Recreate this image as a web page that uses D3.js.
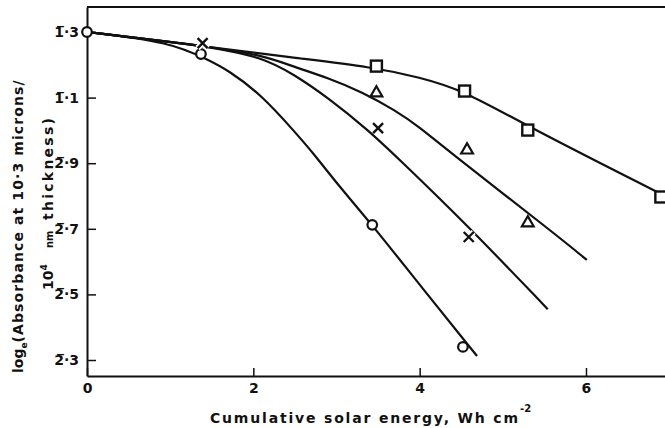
<!DOCTYPE html>
<html><head><meta charset="utf-8">
<script src="https://cdn.jsdelivr.net/npm/d3@7"></script>
<style>
html,body{margin:0;padding:0;background:#fff;}
svg{display:block;}
text{font-family:"DejaVu Sans",sans-serif;font-weight:bold;fill:#111;}
</style></head>
<body>
<script>
// ---- data ----
const xTicks = [0, 2, 4, 6];
const yTicks = [-0.7, -0.9, -1.1, -1.3, -1.5, -1.7];
const yTickLabels = ["1\u0305·3", "1\u0305·1", "2\u0305·9", "2\u0305·7", "2\u0305·5", "2\u0305·3"];

// measured points
const circleX = [0, 1.37, 3.43, 4.52];
const circleY = [-0.700, -0.767, -1.288, -1.660];
const crossX = [1.39, 3.50, 4.59];
const crossY = [-0.734, -0.993, -1.325];
const triangleX = [3.48, 4.57, 5.30];
const triangleY = [-0.883, -1.057, -1.279];
const squareX = [3.48, 4.54, 5.30, 6.90];
const squareY = [-0.804, -0.880, -0.999, -1.203];

// fitted curves
const circleCurveX = [0, 1.00, 1.455, 1.695, 2.10, 2.50, 2.72, 3.04, 3.43, 4.06, 4.69];
const circleCurveY = [-0.700, -0.730, -0.785, -0.816, -0.892, -1.005, -1.069, -1.173, -1.288, -1.490, -1.688];
const crossCurveX = [0, 1.00, 1.48, 2.10, 2.50, 2.90, 3.38, 3.70, 4.57, 5.54];
const crossCurveY = [-0.700, -0.730, -0.746, -0.776, -0.831, -0.901, -0.999, -1.075, -1.288, -1.545];
const triangleCurveX = [0, 1.00, 1.48, 2.10, 2.50, 2.90, 3.31, 3.70, 4.00, 4.33, 5.69, 6.01];
const triangleCurveY = [-0.700, -0.730, -0.746, -0.770, -0.807, -0.840, -0.883, -0.938, -0.990, -1.060, -1.328, -1.395];
const squareCurveX = [0, 1.00, 1.48, 2.50, 3.43, 4.00, 4.53, 5.29, 6.95];
const squareCurveY = [-0.700, -0.730, -0.746, -0.779, -0.807, -0.838, -0.878, -0.987, -1.200];

const xLabel = "Cumulative solar energy, Wh cm";
const yLabel1 = "(Absorbance at 10·3 microns/";
const yLabel2 = "thickness)";

// ---- drawing ----
const W = 665, H = 428;
const svg = d3.select("body").append("svg").attr("width", W).attr("height", H);
const x = d3.scaleLinear().domain([0, 6.95]).range([87, 665]);
const y = d3.scaleLinear().domain([-0.7, -1.7]).range([32, 360]);
const yTop = 7, yBot = 376;
const ink = "#111";

// frame
svg.append("line").attr("x1", 87).attr("x2", 665).attr("y1", yTop).attr("y2", yTop)
  .attr("stroke", ink).attr("stroke-width", 2);

const xAxis = d3.axisBottom(x).tickValues(xTicks).tickSizeInner(-8).tickSizeOuter(0)
  .tickPadding(7).tickFormat(d3.format("d"));
const gx = svg.append("g").attr("transform", `translate(0,${yBot})`).call(xAxis);
gx.select(".domain").attr("stroke", ink).attr("stroke-width", 2);
gx.selectAll(".tick line").attr("stroke", ink).attr("stroke-width", 1.5);
gx.selectAll(".tick text").attr("font-size", 14).attr("font-family", "DejaVu Sans").attr("font-weight", "bold").attr("fill", ink);

const yAxisScale = y.copy().domain([y.invert(yTop), y.invert(yBot)]).range([yTop, yBot]);
const yAxis = d3.axisLeft(yAxisScale).tickValues(yTicks).tickSizeInner(-9).tickSizeOuter(0)
  .tickPadding(8).tickFormat((d, i) => yTickLabels[i]);
const gy = svg.append("g").attr("transform", "translate(87,0)").call(yAxis);
gy.select(".domain").attr("stroke", ink).attr("stroke-width", 2);
gy.selectAll(".tick line").attr("stroke", ink).attr("stroke-width", 1.5);
gy.selectAll(".tick text").attr("font-size", 14).attr("font-family", "DejaVu Sans").attr("font-weight", "bold").attr("fill", ink);

// curves
const line = d3.line().x(d => x(d[0])).y(d => y(d[1])).curve(d3.curveBasis);
const curves = [
  [circleCurveX, circleCurveY],
  [crossCurveX, crossCurveY],
  [triangleCurveX, triangleCurveY],
  [squareCurveX, squareCurveY]
];
curves.forEach(([xs, ys]) => {
  svg.append("path").datum(xs.map((v, i) => [v, ys[i]]))
    .attr("d", line).attr("fill", "none").attr("stroke", ink).attr("stroke-width", 2.2);
});

// markers
const zip = (xs, ys) => xs.map((v, i) => [v, ys[i]]);
svg.selectAll(".circ").data(zip(circleX, circleY)).join("circle")
  .attr("cx", d => x(d[0])).attr("cy", d => y(d[1])).attr("r", 4.8)
  .attr("fill", "#fff").attr("stroke", ink).attr("stroke-width", 2.2);
svg.selectAll(".sq").data(zip(squareX, squareY)).join("rect")
  .attr("x", d => x(d[0]) - 5.5).attr("y", d => y(d[1]) - 5.5).attr("width", 11).attr("height", 11)
  .attr("fill", "#fff").attr("stroke", ink).attr("stroke-width", 2.4);
const tri = d3.symbol().type(d3.symbolTriangle).size(60);
svg.selectAll(".tri").data(zip(triangleX, triangleY)).join("path")
  .attr("d", tri).attr("transform", d => `translate(${x(d[0])},${y(d[1]) + 1})`)
  .attr("fill", "#fff").attr("stroke", ink).attr("stroke-width", 2.2).attr("stroke-linejoin", "miter");
const crossG = svg.selectAll(".cr").data(zip(crossX, crossY)).join("g")
  .attr("transform", d => `translate(${x(d[0])},${y(d[1])})`);
crossG.append("path").attr("d", "M-5,-5L5,5M5,-5L-5,5").attr("stroke", "#fff").attr("stroke-width", 6);
crossG.append("path").attr("d", "M-5,-5L5,5M5,-5L-5,5").attr("stroke", ink).attr("stroke-width", 2.4);

// axis titles
const xt = svg.append("text").attr("x", 210).attr("y", 423).attr("font-size", 14)
  .attr("textLength", 308).attr("lengthAdjust", "spacing");
xt.text(xLabel);
svg.append("text").attr("x", 520).attr("y", 412).attr("font-size", 10).text("-2");

const yl1 = svg.append("text").attr("transform", "translate(23,373) rotate(-90)").attr("font-size", 14);
yl1.append("tspan").text("log");
yl1.append("tspan").attr("dy", 4).attr("font-size", 9).text("e");
yl1.append("tspan").attr("dy", -4).attr("textLength", 262).attr("lengthAdjust", "spacing").text(yLabel1);

const yl2 = svg.append("text").attr("transform", "translate(53,290) rotate(-90)").attr("font-size", 14);
yl2.append("tspan").attr("x", 0).text("10");
yl2.append("tspan").attr("dy", -6).attr("font-size", 9).text("4");
yl2.append("tspan").attr("x", 42).attr("dy", 6).attr("font-size", 10).text("nm");
yl2.append("tspan").attr("x", 70).attr("textLength", 102).attr("lengthAdjust", "spacing").text(yLabel2);
</script>
</body></html>
